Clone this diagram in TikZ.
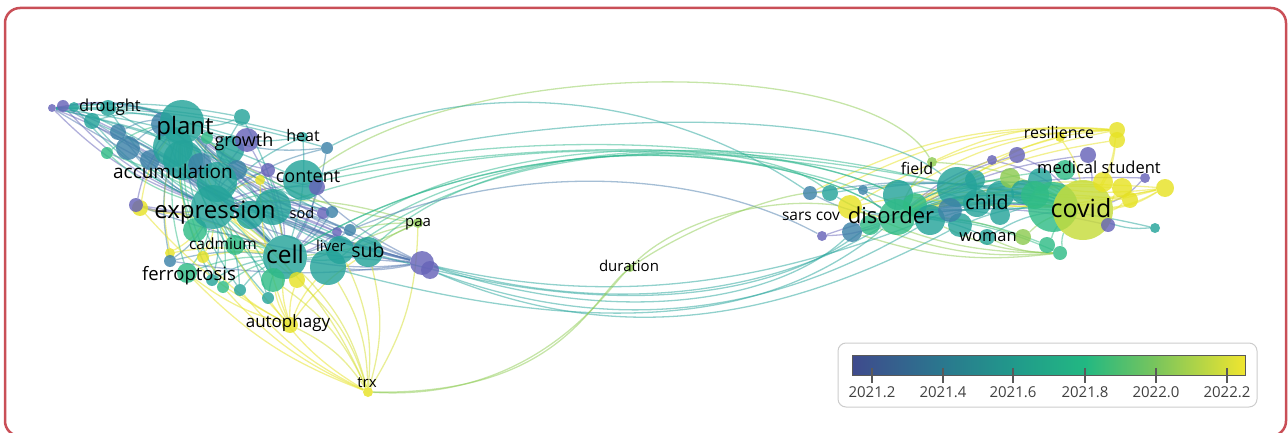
\documentclass[tikz,border=0pt]{standalone}
\usepackage{fontspec}
\setmainfont{Open Sans}
\usetikzlibrary{positioning}
\definecolor{vpur}{HTML}{6663B8}
\definecolor{vblu}{HTML}{3D82A8}
\definecolor{vtea}{HTML}{24A39A}
\definecolor{vgrn}{HTML}{30BC86}
\definecolor{vlim}{HTML}{8DCB52}
\definecolor{vyel}{HTML}{E6E224}
\definecolor{vcov}{HTML}{C6DC3A}
\definecolor{frame}{HTML}{C94F57}
\definecolor{bar0}{HTML}{3F4A8D}
\definecolor{bar1}{HTML}{2A788E}
\definecolor{bar2}{HTML}{21998B}
\definecolor{bar3}{HTML}{22B882}
\definecolor{bar4}{HTML}{7AC55C}
\definecolor{bar5}{HTML}{F0E52F}
\pgfdeclarelayer{links}
\pgfsetlayers{links,main}
\tikzset{
  kw/.style={circle, inner sep=0pt, draw=none, fill opacity=0.82},
  lnk/.style={line width=1.3pt, draw opacity=0.5},
  kwtext/.style={inner sep=0pt, text=black, text height=0.72em, text depth=0.2em},
}
\begin{document}
\begin{tikzpicture}[x=1pt, y=-1pt]
    \useasboundingbox (0,0) rectangle (1288,433);
    % Frame
    \begin{scope}
    \clip (0,0) rectangle (1288,433);
    \draw[frame, line width=2.5pt, rounded corners=15pt] (5,8) rectangle (1286,436);
    \end{scope}
    % Keywords, left cluster
    \foreach \nm/\x/\y/\r/\c in {l01/52/108/4/vpur, l02/63/106/6/vpur, l03/74/107/5/vtea, l04/108/108/8/vtea,
        l05/92/121/8/vtea, l06/118/132/8/vblu, l07/128/148/12/vblu, l08/107/153/6/vgrn, l40/150/160/10/vblu,
        l10/173/147/20/vtea, l11/183/160/20/vtea, l09/163/124/12/vblu, plant/182/122/22/vtea, l12/207/138/6/vgrn,
        l13/242/117/8/vtea, l42/230/150/14/vtea, growth/247/140/12/vpur, heat/303/137/5/vtea, l14/327/148/6/vblu,
        l41/200/165/12/vblu, l15/237/170/10/vblu, l16/268/170/7/vpur, l17/260/180/5/vyel, content/303/180/20/vtea,
        l18/317/187/8/vpur, l19/217/182/20/vtea, l39/195/230/12/vgrn, l38/250/215/14/vtea, expr/213/207/22/vtea,
        l20/273/207/18/vtea, l21/140/208/8/vyel, l22/136/205/7/vpur, sod/323/213/6/vpur, l23/332/212/6/vblu,
        l24/337/232/5/vpur, l25/350/230/6/vblu, l26/170/253/5/vyel, l27/170/261/6/vblu, l37/235/245/10/vgrn,
        l28/203/257/6/vyel, ferro/187/273/10/vgrn, l32/340/250/14/vtea, l29/328/267/18/vtea, cell/285/257/22/vtea,
        l30/273/280/12/vgrn, l31/297/280/8/vyel, sub/368/252/15/vtea, pur1/422/263/12/vpur, pur2/430/270/9/vpur,
        l33/240/290/6/vtea, l34/223/287/6/vgrn, l35/212/280/6/vtea, l36/268/298/6/vtea, autoph/290/325/8/vyel,
        trx/368/392/5/vyel, paa/418/223/5/vlim, dur/630/268/4/vlim}
        \node[kw, fill=\c, minimum size=2*\r pt] (\nm) at (\x,\y) {};
    % Keywords, right cluster
    \foreach \nm/\x/\y/\r/\c in {r01/810/193/7/vblu, r02/830/193/8/vtea, r03/863/190/5/vblu, r04/850/207/12/vyel,
        r05/852/232/10/vblu, sarsc/822/236/5/vpur, r29/870/225/10/vgrn, r06/898/195/15/vtea, r30/915/205/12/vgrn,
        dis/897/217/18/vgrn, field/932/162/5/vlim, r07/930/220/15/vtea, r27/960/225/12/vtea, r08/957/187/20/vtea,
        r10/950/210/12/vblu, r31/975/180/10/vtea, r09/977/203/14/vtea, r32/1000/195/14/vtea, r28/1000/215/10/vtea,
        woman/987/237/8/vtea, r11/992/160/5/vpur, r12/1017/155/8/vpur, r13/1010/178/10/vlim, r14/1023/192/12/vtea,
        r33/1040/180/12/vtea, r26/1035/195/14/vgrn, r34/1065/170/10/vgrn, r15/1023/237/8/vlim, r16/1047/245/8/vgrn,
        r17/1060/253/7/vgrn, covg/1053/207/25/vgrn, covid/1083/210/30/vcov, r18/1088/155/8/vpur,
        res1/1117/130/8/vyel, res2/1117/140/8/vyel, r19/1060/137/5/vyel, r25/1103/182/10/vyel, r20/1122/188/10/vyel,
        r35/1130/200/8/vyel, r21/1145/178/5/vpur, r22/1165/188/9/vyel, r23/1108/225/7/vpur, r24/1155/228/5/vtea}
        \node[kw, fill=\c, minimum size=2*\r pt] (\nm) at (\x,\y) {};
    % Links
    \begin{pgfonlayer}{links}
    \foreach \a/\c in {l01/vpur, l02/vpur, l03/vtea, l04/vtea, l05/vtea, l06/vblu, l07/vblu, l08/vgrn, l09/vblu,
        l12/vgrn, l13/vtea, growth/vpur, heat/vtea, l14/vblu, l15/vblu, l16/vpur, l17/vyel, l18/vpur, l21/vyel,
        l22/vpur, sod/vpur, l23/vblu, l24/vpur, l25/vblu, l26/vyel, l27/vblu, l28/vyel, ferro/vgrn, l30/vgrn,
        l31/vyel, sub/vtea, l32/vtea, l33/vtea, l34/vgrn, l35/vtea, l36/vtea, l37/vgrn, l39/vgrn, l40/vblu, paa/vlim}
    {
        \draw[lnk, \c] (\a) to[bend left=14] (plant);
        \draw[lnk, \c] (\a) to[bend right=12] (expr);
        \draw[lnk, \c] (\a) to[bend left=10] (cell);
    }
    \foreach \a in {heat, l14, content, growth, l13, sod, l23}
        \draw[lnk, vtea] (l01) to[bend left=8] (\a);
    \foreach \a in {l01, l02, l05, l07, l09, plant, l11, expr, cell, l29, sub, content, l20, l27, l22}
        \draw[lnk, vpur!70!vtea] (pur1) to[bend left=8] (\a);
    \foreach \a in {cell, l30, l31, expr, sub, l29, ferro, l28, l17, l21}
        \draw[lnk, vyel] (autoph) to[bend left=10] (\a);
    \foreach \a in {cell, sub, l29, autoph, l30, l31, l32, expr, paa}
        \draw[lnk, vyel!80!vlim] (trx) to[bend right=15] (\a);
    \foreach \a in {l33, ferro, l34, l36}
        \draw[lnk, vyel] (trx) to[bend left=12] (\a);
    \foreach \a in {sub, l32, l25}
        \draw[lnk, vlim] (paa) to[bend right=6] (\a);
    % Right cluster links
    \foreach \a/\c in {r01/vblu, r02/vtea, r03/vblu, r04/vyel, r05/vblu, sarsc/vpur, r06/vtea, field/vlim,
        r07/vtea, r08/vtea, r09/vtea, r10/vblu, woman/vtea, r11/vpur, r12/vpur, r13/vlim, r14/vtea, r15/vlim,
        r16/vgrn, r17/vgrn, r18/vpur, res1/vyel, res2/vyel, r19/vyel, r20/vyel, r21/vpur, r22/vyel, r23/vpur,
        r24/vtea, r25/vyel, r26/vgrn, r27/vtea, r28/vtea, r29/vgrn, r30/vgrn, r31/vtea, r32/vtea, r33/vtea,
        r34/vgrn, r35/vyel}
    {
        \draw[lnk, \c] (\a) to[bend left=12] (covid);
        \draw[lnk, \c] (\a) to[bend right=10] (dis);
    }
    \foreach \a in {r02, r04, r06, field, r08, r01}
        \draw[lnk, vyel] (res1) to[bend right=15] (\a);
    \foreach \a in {r05, r29, r07, woman, r04}
        \draw[lnk, vlim] (r17) to[bend left=12] (\a);
    \foreach \a in {covid, r14, r09, r13, r06}
        \draw[lnk, vyel] (r22) to[bend left=10] (\a);
    % Long links between the clusters
    \draw[lnk, vlim] (content) .. controls (470,55) and (870,55) .. (field);
    \draw[lnk, vtea] (l14) .. controls (460,80) and (650,85) .. (r01);
    \draw[lnk, vtea] (content) .. controls (520,110) and (850,100) .. (r08);
    \foreach \a/\b in {cell/dis, l29/r06, sub/r08, l32/dis, l20/r07, expr/covg, cell/r09, content/r06, l25/r02}
        \draw[lnk, vgrn!70!vtea] (\a) .. controls (500,130) and (760,135) .. (\b);
    \foreach \a/\b/\h in {pur1/dis/320, pur2/r07/340, pur1/r10/310, pur2/r27/350, pur1/r05/330, sub/r29/325, l29/dis/345}
        \draw[lnk, vtea] (\a) .. controls (620,\h) and (780,\h-30) .. (\b);
    \draw[lnk, vpur!60!vtea] (l25) .. controls (520,160) and (700,170) .. (sarsc);
    \draw[lnk, vlim] (trx) .. controls (560,395) and (590,300) .. (dur) .. controls (670,225) and (760,195) .. (r04);
    \draw[lnk, vlim] (trx) .. controls (540,402) and (610,285) .. (dur) .. controls (680,232) and (780,190) .. (r02);
    \end{pgfonlayer}
    % Labels
    \foreach \t/\x/\y/\s [count=\i] in {drought/110/109/16.5, plant/185/132/24, growth/244/144/18, heat/303/139/16,
        accumulation/173/176/19, content/308/180/18, expression/215/216/24, sod/302/216/14.5,
        cadmium/223/247/15.5, cell/285/261/24.5, liver/331/249/15, sub/368/255/19.5, ferroptosis/189/278/18.5,
        paa/418/224/15, autophagy/288/325/17, trx/367/385/15, duration/629/269/15, sars cov/811/218/15.5,
        disorder/891/221/22, field/917/172/16, child/987/207/19.5, woman/988/239/16.5, resilience/1059/136/16,
        medical student/1099/171/16.5, covid/1081/215/25}
        \node[kwtext, font=\fontsize{\s}{\s}\selectfont] (lab\i) at (\x,\y) {\t};
    % Legend
    \node[draw=gray!40, line width=1pt, rounded corners=8pt, minimum width=419pt, minimum height=64pt] (legend) at (1047.5,375) {};
    \foreach \xa/\xb/\ca/\cb in {852/943/bar0/bar1, 943/1013/bar1/bar2, 1013/1085/bar2/bar3, 1085/1156/bar3/bar4, 1156/1245/bar4/bar5}
        \shade[left color=\ca, right color=\cb] (\xa,355) rectangle (\xb+0.5,375);
    \draw[gray!70!black, line width=0.8pt] (852,355) rectangle (1245,375);
    \foreach \v/\x [count=\i] in {2021.2/872, 2021.4/943, 2021.6/1013, 2021.8/1085, 2022.0/1156, 2022.2/1227}
    {
        \draw[gray!70!black, line width=1.2pt] (\x,368) -- (\x,383);
        \node[kwtext, text=black!75, font=\fontsize{15}{15}\selectfont] (tick\i) at (\x,395) {\v};
    }
\end{tikzpicture}
\end{document}
